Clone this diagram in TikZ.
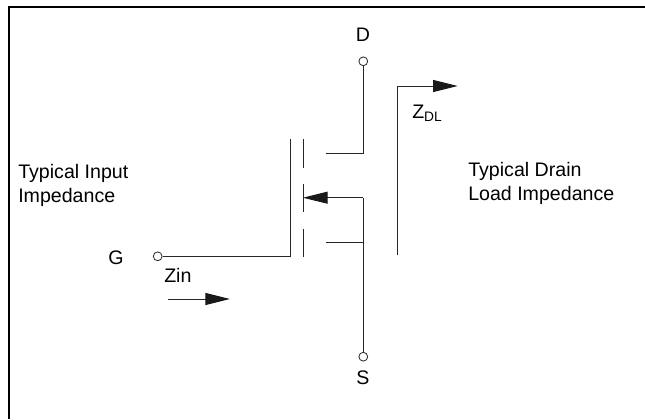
\documentclass[tikz,border=0pt]{standalone}
\usepackage{fontspec}
\setmainfont{Liberation Sans}
\usetikzlibrary{arrows.meta}
\tikzset{
  wire/.style={line width=0.75pt,draw=black!85},
  pointer/.style={wire,-{Triangle[length=18.5pt,width=9pt,color=black!90]}},
  terminal/.style={circle,draw=black!85,line width=0.6pt,fill=white,minimum size=6.6pt,inner sep=0pt},
  lbl/.style={font=\fontsize{14.7pt}{18pt}\selectfont,inner sep=0pt,align=left}
}
\begin{document}
\begin{tikzpicture}[x=0.75pt,y=-0.75pt]
      \useasboundingbox (0,0) rectangle (645,419);
      \coordinate (frameTop) at (645,6.5);
      \coordinate (frameCorner) at (9,6.5);
      \coordinate (frameBottom) at (9,419);
      \draw[line width=1.5pt] (frameTop) -- (frameCorner) -- (frameBottom);

      \node[terminal] (D) at (363.3,61.3) {};
      \node[terminal] (S) at (363.3,356.7) {};
      \node[terminal] (G) at (157.7,256.3) {};
      \node[lbl,anchor=center] (Dlabel) at (363,35) {D};
      \node[lbl,anchor=center] (Slabel) at (363,378) {S};
      \node[lbl,anchor=center] (Glabel) at (116,258) {G};

      \coordinate (plateTop) at (290,139);
      \coordinate (plateBot) at (290,256.3);
      \coordinate (drainEnd) at (326,153.3);
      \coordinate (drainBend) at (363.3,153.3);
      \coordinate (bodyEnd) at (303,197.7);
      \coordinate (bodyJoin) at (363.3,197.7);
      \coordinate (srcEnd) at (326,242.7);
      \coordinate (srcJoin) at (363.3,242.7);

      \draw[wire] (G) -- (plateBot) -- (plateTop);
      \draw[wire] (303,139) -- (303,167.5);
      \draw[wire] (303,184) -- (303,212);
      \draw[wire] (303,229) -- (303,257);
      \draw[wire] (D) -- (drainBend) -- (drainEnd);
      \draw[pointer] (bodyJoin) -- (bodyEnd);
      \draw[wire] (bodyJoin) -- (S);
      \draw[wire] (srcEnd) -- (srcJoin);

      %load impedance arrow
      \coordinate (zdlFoot) at (397.3,255);
      \coordinate (zdlBend) at (397.3,86);
      \coordinate (zdlTip) at (457.7,86);
      \draw[pointer] (zdlFoot) -- (zdlBend) -- (zdlTip);
      \node[lbl,anchor=west] (ZDL) at (412,113) {Z\textsubscript{DL}};

      \coordinate (zinTail) at (168,299);
      \coordinate (zinTip) at (230,299);
      \draw[pointer] (zinTail) -- (zinTip);
      \node[lbl,anchor=west] (Zin) at (164,275) {Zin};

      \node[lbl,anchor=west] (inputText) at (18,185) {Typical Input\\Impedance};
      \node[lbl,anchor=west] (drainText) at (468,183.5) {Typical Drain\\Load Impedance};
    \end{tikzpicture}
\end{document}
